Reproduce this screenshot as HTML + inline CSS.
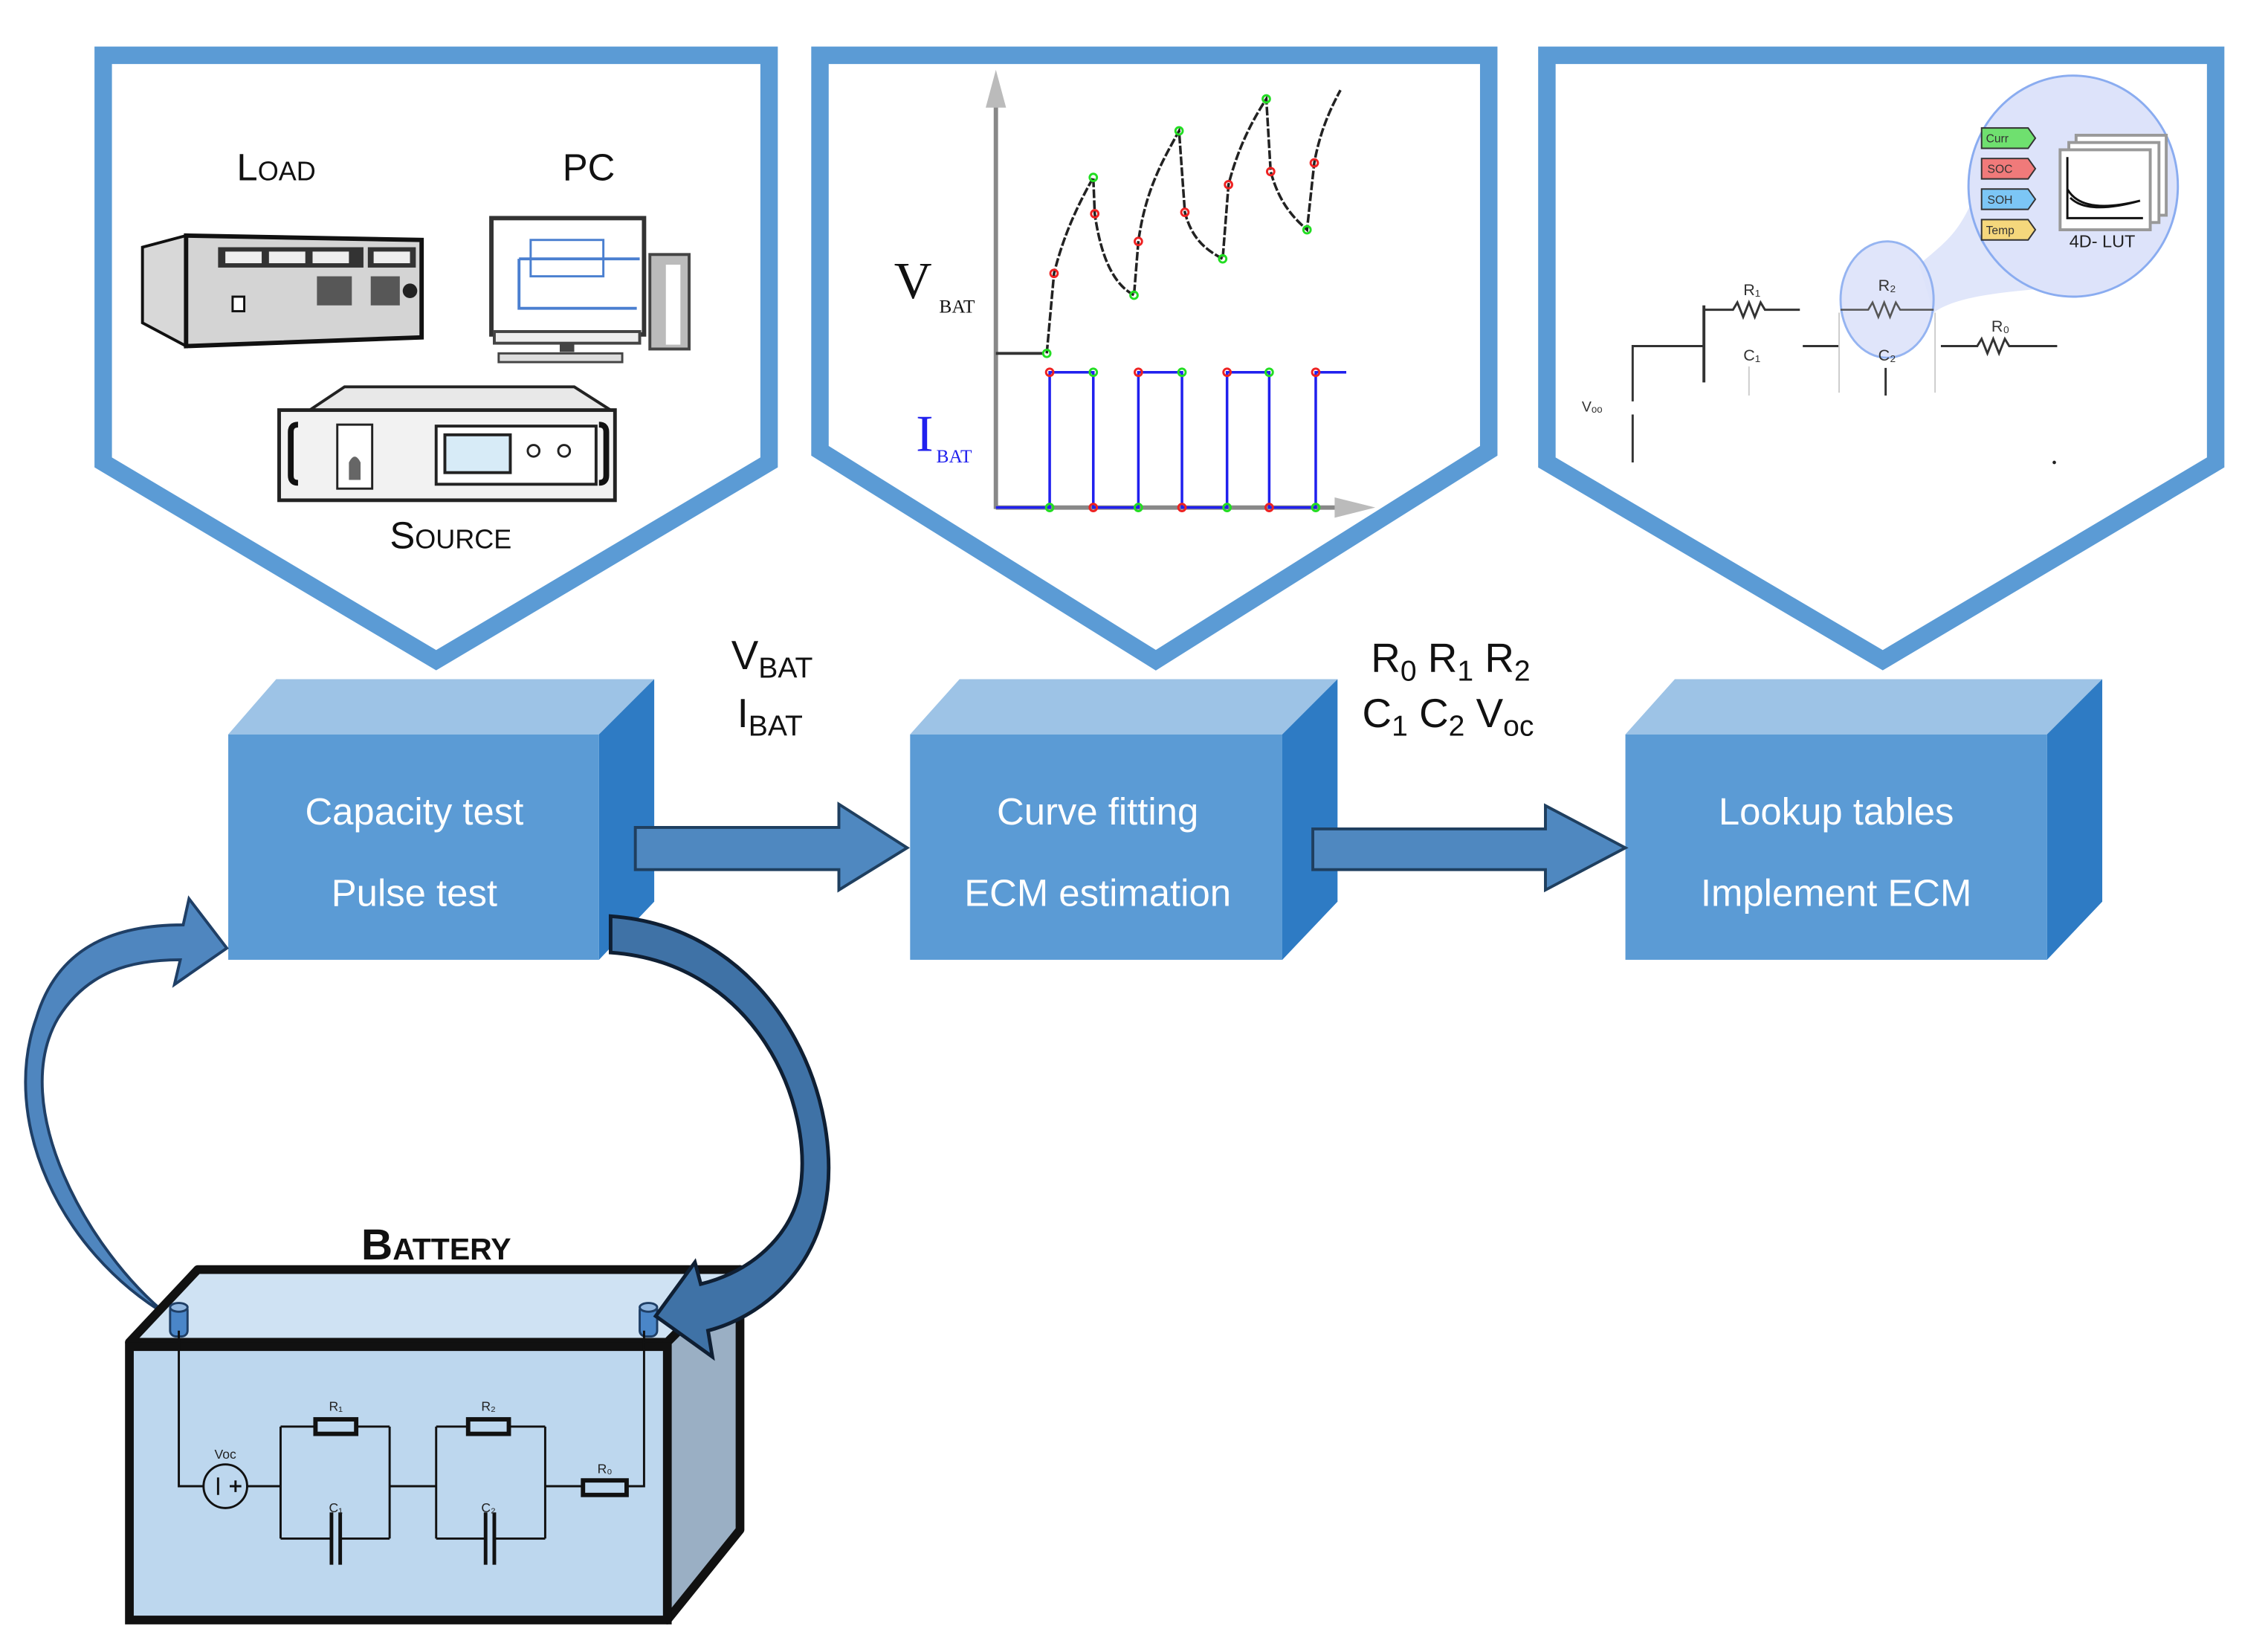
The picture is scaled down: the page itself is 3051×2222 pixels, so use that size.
<!DOCTYPE html>
<html><head><meta charset="utf-8"><style>
html,body{margin:0;padding:0;background:#fff;}
svg{display:block;}
text{font-family:"Liberation Sans","DejaVu Sans",sans-serif;}
</style></head><body>
<svg width="3051" height="2222" viewBox="0 0 1560 1136" preserveAspectRatio="none" xmlns="http://www.w3.org/2000/svg">
<rect width="1560" height="1136" fill="#fff"/>
<g fill="#fff" stroke="#5b9bd5" stroke-width="12" stroke-linejoin="miter">
<polygon points="71,38 529,38 529,318 300,454 71,318"/>
<polygon points="564,38 1024,38 1024,310 795,454 564,310"/>
<polygon points="1064,38 1524,38 1524,318 1295,454 1064,318"/>
</g>

<text x="190" y="124" font-size="26" text-anchor="middle" fill="#111" style="font-variant:small-caps">Load</text>
<text x="405" y="124" font-size="26" text-anchor="middle" fill="#111">PC</text>
<text x="310" y="377" font-size="26" text-anchor="middle" fill="#111" style="font-variant:small-caps">Source</text>
<polygon points="98,170 128,162 128,238 98,222" fill="#d8d8d8" stroke="#111" stroke-width="2"/>
<polygon points="128,162 290,165 290,232 128,238" fill="#d4d4d4" stroke="#111" stroke-width="3"/>
<rect x="150" y="170" width="100" height="14" fill="#333"/>
<rect x="155" y="173" width="25" height="8" fill="#eee"/><rect x="185" y="173" width="25" height="8" fill="#eee"/><rect x="215" y="173" width="25" height="8" fill="#eee"/>
<rect x="253" y="170" width="33" height="14" fill="#333"/><rect x="257" y="173" width="25" height="8" fill="#eee"/>
<g fill="#222"><rect x="218" y="190" width="24" height="20" opacity=".7"/><rect x="255" y="190" width="20" height="20" opacity=".7"/><circle cx="282" cy="200" r="5"/></g>
<rect x="160" y="204" width="8" height="10" fill="#fff" stroke="#111" stroke-width="1.5"/>
<rect x="338" y="150" width="105" height="80" fill="#fff" stroke="#333" stroke-width="3"/>
<path d="M357 178 H440 M357 178 V212 H438" stroke="#4a7fd0" stroke-width="2" fill="none"/>
<rect x="365" y="165" width="50" height="25" fill="none" stroke="#4a7fd0" stroke-width="1.5"/>
<rect x="340" y="228" width="100" height="8" fill="#eee" stroke="#444" stroke-width="2"/>
<rect x="385" y="236" width="10" height="6" fill="#444"/>
<rect x="343" y="243" width="85" height="6" fill="#ddd" stroke="#444" stroke-width="1.5"/>
<rect x="447" y="175" width="27" height="65" fill="#bbb" stroke="#444" stroke-width="2"/>
<rect x="458" y="182" width="10" height="55" fill="#fff"/>
<polygon points="213,282 237,266 395,266 420,282" fill="#e8e8e8" stroke="#222" stroke-width="2"/>
<rect x="192" y="282" width="231" height="62" fill="#f2f2f2" stroke="#222" stroke-width="2.5"/>
<rect x="232" y="292" width="24" height="44" fill="#fff" stroke="#222" stroke-width="1.5"/>
<path d="M240 318 q4 -8 8 0 v12 h-8z" fill="#666"/>
<rect x="300" y="293" width="110" height="40" fill="#fff" stroke="#222" stroke-width="2"/>
<rect x="306" y="299" width="45" height="26" fill="#d7ebf7" stroke="#222" stroke-width="2"/>
<circle cx="367" cy="310" r="4" fill="none" stroke="#222" stroke-width="1.5"/><circle cx="388" cy="310" r="4" fill="none" stroke="#222" stroke-width="1.5"/>
<path d="M205 292 q-5 0 -5 5 v30 q0 5 5 5 M412 292 q5 0 5 5 v30 q0 5 -5 5" stroke="#111" stroke-width="4" fill="none"/>

<line x1="685" y1="72" x2="685" y2="350" stroke="#888" stroke-width="3"/>
<polygon points="678,74 692,74 685,48" fill="#bbb"/>
<line x1="685" y1="349" x2="920" y2="349" stroke="#888" stroke-width="3"/>
<polygon points="918,342 918,356 946,349" fill="#bbb"/>
<line x1="685" y1="243" x2="718" y2="243" stroke="#333" stroke-width="2"/>
<path d="M720 243 L725 188 C732 160 742 140 752 122 L753 147 C757 175 765 195 780 203 L783 166 C788 130 800 110 811 90 L815 146 C820 165 830 172 841 178 L845 127 C852 100 862 82 871 68 L874 118 C880 140 890 150 899 158 L904 112 C908 90 915 75 922 62" fill="none" stroke="#222" stroke-width="1.8" stroke-dasharray="6 1.5"/>
<path d="M685 349 H722 V256 H752 V349 H783 V256 H813 V349 H844 V256 H873 V349 H905 V256 H926" fill="none" stroke="#2020ee" stroke-width="1.8"/>
<g fill="none" stroke-width="1.5">
<g stroke="#22dd22"><circle cx="720" cy="243" r="2.5"/><circle cx="752" cy="122" r="2.5"/><circle cx="780" cy="203" r="2.5"/><circle cx="811" cy="90" r="2.5"/><circle cx="841" cy="178" r="2.5"/><circle cx="871" cy="68" r="2.5"/><circle cx="899" cy="158" r="2.5"/>
<circle cx="752" cy="256" r="2.5"/><circle cx="813" cy="256" r="2.5"/><circle cx="873" cy="256" r="2.5"/><circle cx="722" cy="349" r="2.5"/><circle cx="783" cy="349" r="2.5"/><circle cx="844" cy="349" r="2.5"/><circle cx="905" cy="349" r="2.5"/></g>
<g stroke="#ee2222"><circle cx="725" cy="188" r="2.5"/><circle cx="753" cy="147" r="2.5"/><circle cx="783" cy="166" r="2.5"/><circle cx="815" cy="146" r="2.5"/><circle cx="845" cy="127" r="2.5"/><circle cx="874" cy="118" r="2.5"/><circle cx="904" cy="112" r="2.5"/>
<circle cx="722" cy="256" r="2.5"/><circle cx="783" cy="256" r="2.5"/><circle cx="844" cy="256" r="2.5"/><circle cx="905" cy="256" r="2.5"/><circle cx="752" cy="349" r="2.5"/><circle cx="813" cy="349" r="2.5"/><circle cx="873" cy="349" r="2.5"/></g>
</g>
<text x="615" y="205" font-size="36" fill="#111" style="font-family:'Liberation Serif',serif">V</text>
<text x="646" y="215" font-size="13" fill="#111" style="font-family:'Liberation Serif',serif">BAT</text>
<text x="630" y="310" font-size="36" fill="#2020ee" style="font-family:'Liberation Serif',serif">I</text>
<text x="644" y="318" font-size="13" fill="#2020ee" style="font-family:'Liberation Serif',serif">BAT</text>

<g stroke="#333" stroke-width="1.5" fill="none">
<path d="M1123 318 V285 M1123 276 V238 H1172"/>
<path d="M1172 210 V263" stroke-width="2"/>
<path d="M1172 213 H1192 l3 -5 l4 10 l4 -10 l4 10 l4 -10 l3 5 H1238"/>
<path d="M1240 238 H1265"/>
<path d="M1297 253 V272"/>
<path d="M1335 238 H1360 l3 -5 l4 10 l4 -10 l4 10 l4 -10 l3 5 H1415"/>
</g>
<g stroke="#ccc" stroke-width="1" fill="none"><path d="M1203 252 V272 M1265 215 V270 M1331 215 V270"/></g>
<text x="1205" y="203" font-size="11" text-anchor="middle" fill="#333">R₁</text>
<text x="1205" y="248" font-size="11" text-anchor="middle" fill="#333">C₁</text>
<text x="1376" y="228" font-size="11" text-anchor="middle" fill="#333">R₀</text>
<text x="1088" y="283" font-size="10" fill="#333">Vₒₒ</text>
<circle cx="1413" cy="318" r="1.2" fill="#222"/>
<path d="M1320 182 C1340 165 1348 160 1360 130 L1440 195 C1400 200 1350 200 1330 215 Z" fill="#dde3fa" opacity=".9"/>
<ellipse cx="1426" cy="128" rx="72" ry="76" fill="#dde3fa" stroke="#8aacf0" stroke-width="1.5"/>
<ellipse cx="1298" cy="206" rx="32" ry="40" fill="#dde3fa" stroke="#8aacf0" stroke-width="1.5" opacity=".9"/>
<text x="1298" y="200" font-size="11" text-anchor="middle" fill="#333">R₂</text>
<text x="1298" y="248" font-size="11" text-anchor="middle" fill="#333">C₂</text>
<path d="M1266 213 H1285 l3 -5 l4 10 l4 -10 l4 10 l4 -10 l3 5 H1330" stroke="#555" stroke-width="1.3" fill="none"/>
<g stroke="#333" stroke-width="1">
<polygon points="1363,88 1395,88 1400,95 1395,102 1363,102" fill="#6fe06f"/>
<polygon points="1363,109 1395,109 1400,116 1395,123 1363,123" fill="#f07a7a"/>
<polygon points="1363,130 1395,130 1400,137 1395,144 1363,144" fill="#7cc6f5"/>
<polygon points="1363,151 1395,151 1400,158 1395,165 1363,165" fill="#f5d77c"/>
</g>
<g font-size="8" fill="#333"><text x="1366" y="98">Curr</text><text x="1367" y="119">SOC</text><text x="1367" y="140">SOH</text><text x="1366" y="161">Temp</text></g>
<rect x="1428" y="93" width="62" height="55" fill="#fff" stroke="#999" stroke-width="2"/>
<rect x="1423" y="98" width="62" height="55" fill="#fff" stroke="#999" stroke-width="2"/>
<rect x="1417" y="103" width="62" height="55" fill="#fff" stroke="#999" stroke-width="2"/>
<path d="M1422 108 V150 H1474 M1422 130 q10 18 50 8 M1424 136 q12 12 48 2" stroke="#111" stroke-width="1.5" fill="none"/>
<text x="1446" y="170" font-size="12" text-anchor="middle" fill="#222">4D- LUT</text>

<g>
<polygon points="157,505 190,467 450,467 412,505" fill="#9dc3e6"/>
<polygon points="412,505 450,467 450,620 412,660" fill="#2e7bc4"/>
<rect x="157" y="505" width="255" height="155" fill="#5b9bd5"/>
<polygon points="626,505 660,467 920,467 882,505" fill="#9dc3e6"/>
<polygon points="882,505 920,467 920,620 882,660" fill="#2e7bc4"/>
<rect x="626" y="505" width="256" height="155" fill="#5b9bd5"/>
<polygon points="1118,505 1152,467 1446,467 1408,505" fill="#9dc3e6"/>
<polygon points="1408,505 1446,467 1446,620 1408,660" fill="#2e7bc4"/>
<rect x="1118" y="505" width="290" height="155" fill="#5b9bd5"/>
</g>
<g fill="#fff" font-size="26" text-anchor="middle">
<text x="285" y="567">Capacity test</text><text x="285" y="623">Pulse test</text>
<text x="755" y="567">Curve fitting</text><text x="755" y="623">ECM estimation</text>
<text x="1263" y="567">Lookup tables</text><text x="1263" y="623">Implement ECM</text>
</g>

<polygon points="437,569 577,569 577,553 624,583 577,612 577,598 437,598" fill="#4f88c0" stroke="#1f3f5f" stroke-width="2"/>
<polygon points="903,570 1063,570 1063,554 1118,583 1063,612 1063,598 903,598" fill="#4f88c0" stroke="#1f3f5f" stroke-width="2"/>

<g fill="#111" font-size="28">
<text x="503" y="460">V<tspan font-size="20" dy="6">BAT</tspan></text>
<text x="507" y="500">I<tspan font-size="20" dy="6">BAT</tspan></text>
<text x="943" y="462">R<tspan font-size="20" dy="6">0</tspan><tspan dy="-6"> R</tspan><tspan font-size="20" dy="6">1</tspan><tspan dy="-6"> R</tspan><tspan font-size="20" dy="6">2</tspan></text>
<text x="937" y="500">C<tspan font-size="20" dy="6">1</tspan><tspan dy="-6"> C</tspan><tspan font-size="20" dy="6">2</tspan><tspan dy="-6"> V</tspan><tspan font-size="20" dy="6">oc</tspan></text>
</g>

<!-- left curved arrow -->
<path d="M116 905 C60 860 5 760 40 700 C60 668 90 660 124 660 L120 677 L156 652 L130 618 L126 636 C80 636 40 650 25 700 C0 770 40 860 116 905 Z" fill="#4f86bf" stroke="#1f3f66" stroke-width="2"/>

<!-- battery -->
<text x="300" y="866" font-size="30" font-weight="bold" text-anchor="middle" fill="#111" style="font-variant:small-caps">Battery</text>
<polygon points="89,923 136,873 509,873 459,923" fill="#cfe2f3" stroke="#111" stroke-width="6" stroke-linejoin="round"/>
<polygon points="459,923 509,873 509,1052 459,1114" fill="#9aafc4" stroke="#111" stroke-width="6" stroke-linejoin="round"/>
<rect x="89" y="926" width="370" height="188" fill="#bdd7ee" stroke="#111" stroke-width="6"/>
<g fill="#4a86c8" stroke="#1f3f66" stroke-width="1.5">
<rect x="117" y="897" width="12" height="22" rx="4"/><ellipse cx="123" cy="899" rx="6" ry="3" fill="#8fb6e0"/>
<rect x="440" y="897" width="12" height="22" rx="4"/><ellipse cx="446" cy="899" rx="6" ry="3" fill="#8fb6e0"/>
</g>

<!-- right curved arrow -->
<path d="M420 630 C535 638 583 760 567 832 C557 877 522 906 487 915 L490 933 L451 905 L478 868 L482 883 C518 874 543 850 550 820 C561 760 520 662 420 655 Z" fill="#3f72a6" stroke="#0f1f33" stroke-width="2.5" stroke-linejoin="miter"/>

<g stroke="#111" stroke-width="1.5" fill="none">
<path d="M123 915 V1022 H140 M170 1022 H193 M193 981 V1058 M268 981 V1058 M193 981 H217 M245 981 H268 M193 1058 H228 M234 1058 H268 M268 1022 H300 M300 981 V1058 M375 981 V1058 M300 981 H322 M350 981 H375 M300 1058 H334 M340 1058 H375 M375 1022 H401 M431 1022 H443 V915"/>
<circle cx="155" cy="1022" r="15"/>
<rect x="217" y="976" width="28" height="10" stroke-width="3"/>
<rect x="322" y="976" width="28" height="10" stroke-width="3"/>
<rect x="401" y="1018" width="30" height="10" stroke-width="3"/>
<path d="M228 1040 V1076 M234 1040 V1076 M334 1040 V1076 M340 1040 V1076" stroke-width="2.5"/>
<path d="M150 1016 V1028 M158 1022 h8 M162 1018 v8"/>
</g>
<g font-size="9" fill="#222" text-anchor="middle">
<text x="231" y="970">R₁</text><text x="336" y="970">R₂</text><text x="231" y="1040">C₁</text><text x="336" y="1040">C₂</text><text x="155" y="1003">Voc</text><text x="416" y="1013">R₀</text>
</g>
</svg>
</body></html>
